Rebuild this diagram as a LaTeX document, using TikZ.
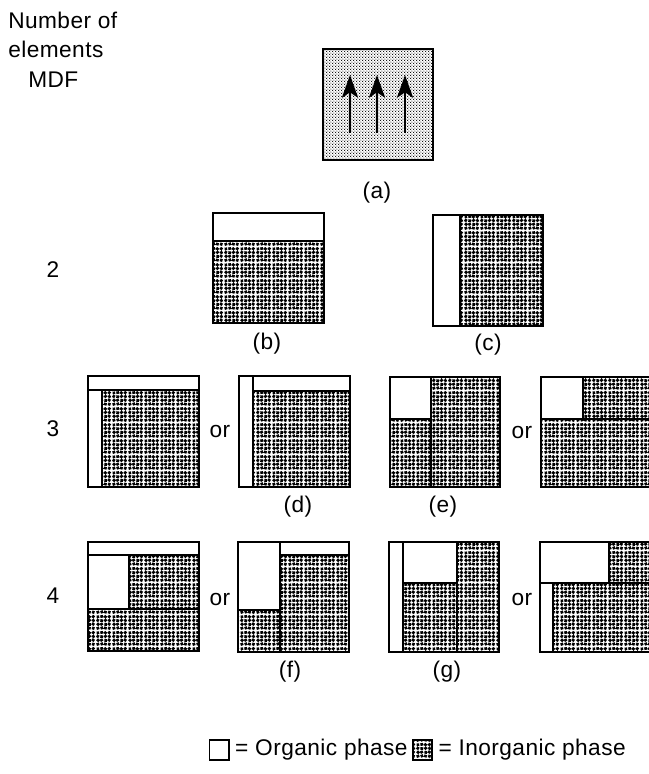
\documentclass[tikz,border=0pt]{standalone}
\usepackage{fontspec}
\setmainfont{Liberation Sans}[LetterSpace=2]
\usetikzlibrary{arrows.meta,patterns}
\newcommand{\pstroke}[4]{\pgfpathmoveto{\pgfqpoint{#1pt}{#2pt}}\pgfpathlineto{\pgfqpoint{#3pt}{#4pt}}}
\pgfdeclarepatternformonly{inorg}{\pgfqpoint{0pt}{0pt}}{\pgfqpoint{12pt}{12pt}}{\pgfqpoint{12pt}{12pt}}{%
  \pgfsetlinewidth{2.05pt}%
  \pstroke{0.47}{1.02}{2.53}{1.78}%
  \pstroke{4.98}{0.57}{4.22}{2.63}%
  \pstroke{8.43}{1.12}{6.37}{1.88}%
  \pstroke{10.12}{0.37}{10.88}{2.43}%
  \pstroke{2.38}{3.72}{0.82}{5.28}%
  \pstroke{3.45}{4.05}{5.35}{5.15}%
  \pstroke{7.5}{3.3}{7.7}{5.5}%
  \pstroke{11.35}{4.05}{9.45}{5.15}%
  \pstroke{0.85}{6.65}{1.95}{8.55}%
  \pstroke{5.6}{7.3}{3.4}{7.5}%
  \pstroke{6.66}{6.89}{8.34}{8.31}%
  \pstroke{11.15}{6.55}{10.05}{8.45}%
  \pstroke{1.6}{9.4}{1.4}{11.4}%
  \pstroke{3.42}{10.41}{5.58}{10.79}%
  \pstroke{8.24}{9.69}{6.56}{11.11}%
  \pstroke{9.87}{9.6}{11.13}{11.4}%
  \pgfusepath{stroke}}
\pgfdeclarepatternformonly{fined}{\pgfqpoint{0pt}{0pt}}{\pgfqpoint{2.4pt}{2.4pt}}{\pgfqpoint{2.4pt}{2.4pt}}{%
  \pgfpathcircle{\pgfqpoint{0.6pt}{0.6pt}}{0.52pt}%
  \pgfpathcircle{\pgfqpoint{1.8pt}{1.8pt}}{0.52pt}%
  \pgfusepath{fill}}
\tikzset{
  txt/.style={font=\fontsize{17pt}{20pt}\selectfont, inner sep=0pt},
  org/.style={fill=white},
  inorg/.style={pattern=inorg},
  fined/.style={pattern=fined},
  frame/.style={draw, line width=1.8pt},
  div/.style={draw, line width=1.3pt},
  uparrow/.style={line width=2.2pt, -{Stealth[length=17pt,width=12pt,inset=4pt]}},
  legbox/.style={draw, line width=1.3pt, minimum size=14.5pt, inner sep=0pt}
}
\begin{document}
\begin{tikzpicture}[x=0.75pt,y=-0.75pt]
\useasboundingbox (0,0) rectangle (649,774);
% left texts
\node[txt, anchor=base west] (hdr1) at (8,29) {Number of};
\node[txt, anchor=base west] (hdr2) at (8,58) {elements};
\node[txt, anchor=base west] (mdf) at (28,88) {MDF};
\node[txt] (n2) at (53,270) {2};
\node[txt] (n3) at (53,429) {3};
\node[txt] (n4) at (53,596) {4};
% (a)
\fill[fined] (323,49) rectangle (433,160);
\draw[frame] (323,49) rectangle (433,160);
\coordinate (a1s) at (350,133); \coordinate (a1e) at (350,75);
\coordinate (a2s) at (377,133); \coordinate (a2e) at (377,75);
\coordinate (a3s) at (405,133); \coordinate (a3e) at (405,75);
\draw[uparrow] (a1s) -- (a1e);
\draw[uparrow] (a2s) -- (a2e);
\draw[uparrow] (a3s) -- (a3e);
\node[txt] (la) at (377,193) {(a)};
% (b)
\fill[inorg] (213,241) rectangle (324,323);
\draw[div] (213,241) -- (324,241);
\draw[frame] (213,213) rectangle (324,323);
\node[txt] (lb) at (267,344) {(b)};
% (c)
\fill[inorg] (460,215) rectangle (543,326);
\draw[div] (460,215) -- (460,326);
\draw[frame] (433,215) rectangle (543,326);
\node[txt] (lc) at (488,345) {(c)};
% (d) first
\fill[inorg] (102,390) rectangle (199,487);
\draw[div] (88,390) -- (199,390) (102,390) -- (102,487);
\draw[frame] (88,376) rectangle (199,487);
\node[txt] (or1) at (220,432) {or};
% (d) second
\fill[inorg] (253,391) rectangle (350,487);
\draw[div] (253,376) -- (253,487) (253,391) -- (350,391);
\draw[frame] (239,376) rectangle (350,487);
\node[txt] (ld) at (298,507) {(d)};
% (e) first
\fill[inorg] (390,419) rectangle (431,487);
\fill[inorg] (431,377) rectangle (500,487);
\draw[div] (431,377) -- (431,487) (390,419) -- (431,419);
\draw[frame] (390,377) rectangle (500,487);
\node[txt] (le) at (443,507) {(e)};
\node[txt] (or2) at (522,433) {or};
% (e) second
\fill[inorg] (583,377) rectangle (653,419);
\fill[inorg] (541,419) rectangle (653,487);
\draw[div] (541,419) -- (653,419) (583,377) -- (583,419);
\draw[frame] (541,377) rectangle (653,487);
% (f) first
\fill[inorg] (129,555) rectangle (199,609);
\fill[inorg] (88,609) rectangle (199,651);
\draw[div] (88,555) -- (199,555) (88,609) -- (199,609) (129,555) -- (129,609);
\draw[frame] (88,542) rectangle (199,651);
\node[txt] (or3) at (220,600) {or};
% (f) second
\fill[inorg] (238,610) rectangle (280,652);
\fill[inorg] (280,555) rectangle (349,652);
\draw[div] (280,542) -- (280,652) (238,610) -- (280,610) (280,555) -- (349,555);
\draw[frame] (238,542) rectangle (349,652);
\node[txt] (lf) at (290,672) {(f)};
% (g) first
\fill[inorg] (403,583) rectangle (457,652);
\fill[inorg] (457,542) rectangle (499,652);
\draw[div] (403,542) -- (403,652) (457,542) -- (457,652) (403,583) -- (457,583);
\draw[frame] (389,542) rectangle (499,652);
\node[txt] (lg) at (447,672) {(g)};
\node[txt] (or4) at (522,600) {or};
% (g) second
\fill[inorg] (609,542) rectangle (653,583);
\fill[inorg] (553,583) rectangle (653,652);
\draw[div] (540,583) -- (653,583) (609,542) -- (609,583) (553,583) -- (553,652);
\draw[frame] (540,542) rectangle (653,652);
% legend
\node[txt, anchor=east] (t2) at (626,750) {= Inorganic phase};
\node[legbox, pattern=inorg, anchor=east] (ib) at ([xshift=-4pt]t2.west) {};
\node[txt, anchor=east] (t1) at ([xshift=-3pt]ib.west) {= Organic phase};
\node[legbox, fill=white, anchor=east] (wb) at ([xshift=-4pt]t1.west) {};
\end{tikzpicture}
\end{document}
